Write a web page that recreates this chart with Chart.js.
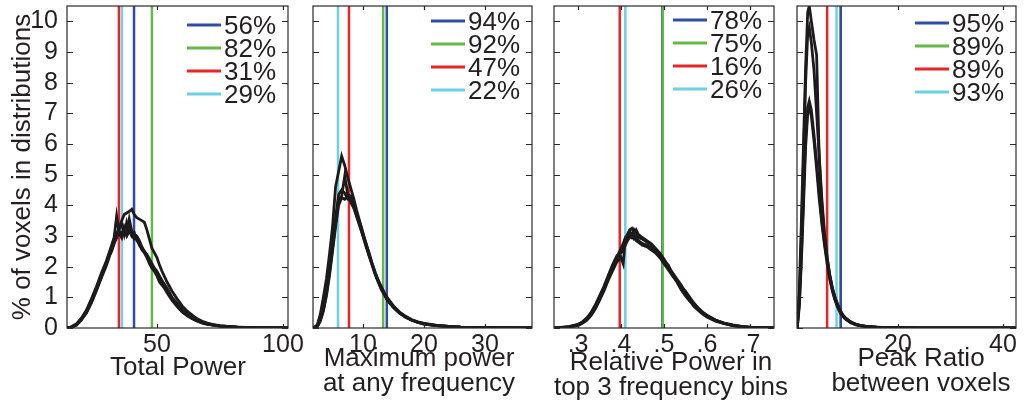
<!DOCTYPE html>
<html>
<head>
<meta charset="utf-8">
<script src="https://cdn.jsdelivr.net/npm/chart.js@4.4.1/dist/chart.umd.min.js"></script>
<style>
  html, body { margin: 0; padding: 0; background: #fff; }
  #wrap { position: relative; width: 1026px; height: 412px; }
  #wrap canvas { position: absolute; left: 0; top: 0; }
</style>
</head>
<body>
<div id="wrap">
  <canvas id="c1" width="1026" height="412"></canvas>
  <canvas id="c2" width="1026" height="412"></canvas>
  <canvas id="c3" width="1026" height="412"></canvas>
  <canvas id="c4" width="1026" height="412"></canvas>
</div>
<script>
// ---- data ----
const yTitle = '% of voxels in distributions';
const markColors = ['#2f4ea3', '#63ba46', '#e52629', '#6fcfe3']; // blue, green, red, cyan

// Total Power
const tpTitle = ['Total Power'];
const tpX = [14,16,18,20,22,24,26,28,30,31,32,33,34,35,36,37,38,39,40,41,42,43,44,45,46,47,48,49,50,51,52,54,56,58,60,62,64,66,68,70,72,75,78,82,86,90,95,102];
const tpA = [0,0.03,0.1,0.28,0.5,0.85,1.25,1.7,2.1,2.35,2.5,2.75,2.95,3.2,3.5,3.7,3.75,3.8,3.87,3.7,3.6,3.55,3.5,3.45,3.2,2.9,2.6,2.45,2.3,2.05,1.85,1.5,1.2,0.95,0.72,0.55,0.42,0.3,0.22,0.16,0.12,0.08,0.05,0.03,0.02,0.01,0.01,0];
const tpB = [0,0.04,0.13,0.32,0.58,0.95,1.35,1.8,2.2,2.45,2.7,2.95,3.65,3.1,2.95,3.3,3.1,3.55,3.15,3.05,3.0,2.85,2.65,2.5,2.35,2.2,2.0,1.9,1.75,1.6,1.45,1.15,0.9,0.7,0.52,0.4,0.3,0.22,0.16,0.12,0.09,0.06,0.04,0.02,0.02,0.01,0,0];
const tpC = [0,0.03,0.11,0.3,0.55,0.9,1.3,1.75,2.15,2.4,2.6,2.85,3.05,3.3,3.4,3.05,3.45,3.2,3.0,3.1,2.85,2.75,2.55,2.45,2.3,2.1,1.95,1.85,1.7,1.5,1.4,1.2,0.95,0.75,0.55,0.42,0.32,0.24,0.17,0.13,0.1,0.06,0.04,0.03,0.02,0.01,0.01,0];
const tpD = [0,0.02,0.09,0.26,0.5,0.82,1.22,1.65,2.05,2.3,2.55,2.8,2.95,3.15,3.1,3.2,3.0,3.15,3.05,2.9,2.95,2.7,2.6,2.5,2.4,2.25,2.1,1.95,1.85,1.7,1.55,1.3,1.0,0.8,0.6,0.45,0.34,0.25,0.19,0.14,0.1,0.07,0.05,0.03,0.02,0.01,0.01,0];
const tpMarks = [40.9, 48.0, 34.9, 36.1];
const tpLegend = ['56%', '82%', '31%', '29%'];

// Maximum power at any frequency
const mpTitle = ['Maximum power', 'at any frequency'];
const mpX = [1.8,2.5,3,3.5,4,4.5,5,5.5,6,6.5,7,7.5,8,8.5,9,9.5,10,10.5,11,11.5,12,12.5,13,13.5,14,15,16,17,18,19,20,22,24,26,28,31,34,37.7];
const mpA = [0,0.1,0.45,1.0,1.6,2.4,3.3,4.6,5.1,5.6,5.3,4.9,4.55,4.2,3.8,3.45,3.1,2.75,2.4,2.1,1.8,1.55,1.3,1.1,0.95,0.7,0.5,0.35,0.25,0.18,0.13,0.08,0.05,0.03,0.02,0.01,0,0];
const mpB = [0,0.05,0.25,0.6,1.1,1.8,2.6,3.4,4.2,4.3,4.95,4.35,4.3,4.0,3.65,3.35,3.0,2.7,2.35,2.05,1.75,1.5,1.3,1.1,0.92,0.68,0.5,0.36,0.26,0.19,0.14,0.08,0.05,0.03,0.02,0.01,0.01,0];
const mpC = [0,0.04,0.22,0.55,1.05,1.7,2.5,3.3,4.0,4.25,4.2,4.3,4.1,3.9,3.6,3.3,3.0,2.65,2.35,2.05,1.75,1.5,1.25,1.08,0.9,0.66,0.48,0.35,0.25,0.18,0.13,0.08,0.05,0.03,0.02,0.01,0,0];
const mpD = [0,0.06,0.3,0.7,1.25,1.95,2.8,3.6,4.35,4.5,4.4,4.2,4.15,3.95,3.7,3.4,3.05,2.75,2.45,2.1,1.8,1.55,1.35,1.15,0.98,0.72,0.52,0.38,0.27,0.2,0.15,0.09,0.05,0.03,0.02,0.01,0.01,0];
const mpMarks = [13.9, 13.3, 7.7, 5.9];
const mpLegend = ['94%', '92%', '47%', '22%'];

// Relative Power in top 3 frequency bins
const rpTitle = ['Relative Power in', 'top 3 frequency bins'];
const rpX = [0.244,0.26,0.28,0.3,0.31,0.32,0.33,0.34,0.35,0.36,0.37,0.38,0.39,0.40,0.405,0.41,0.415,0.42,0.425,0.43,0.435,0.44,0.45,0.46,0.47,0.48,0.49,0.50,0.51,0.52,0.53,0.54,0.55,0.56,0.57,0.58,0.59,0.60,0.62,0.64,0.66,0.68,0.70,0.73,0.756];
const rpA = [0,0.01,0.04,0.1,0.17,0.28,0.45,0.7,0.95,1.25,1.6,1.95,2.3,2.6,2.75,2.95,3.05,3.2,3.25,3.1,3.2,3.05,2.95,2.85,2.75,2.6,2.45,2.25,2.0,1.8,1.6,1.4,1.15,0.95,0.8,0.62,0.5,0.4,0.25,0.15,0.09,0.05,0.02,0.01,0];
const rpB = [0,0.01,0.03,0.08,0.15,0.25,0.4,0.62,0.9,1.2,1.55,1.85,2.15,2.3,2.1,2.9,3.0,3.15,3.0,3.2,3.05,2.95,2.9,2.8,2.7,2.55,2.4,2.2,2.05,1.75,1.55,1.35,1.2,1.0,0.8,0.65,0.52,0.42,0.26,0.16,0.1,0.05,0.03,0.01,0];
const rpC = [0,0.01,0.04,0.11,0.19,0.3,0.48,0.72,1.0,1.3,1.65,2.0,2.25,2.45,2.55,2.7,2.85,2.95,3.0,2.9,2.95,2.85,2.75,2.7,2.6,2.5,2.35,2.2,1.95,1.75,1.55,1.3,1.1,0.9,0.75,0.6,0.48,0.38,0.24,0.15,0.08,0.04,0.02,0.01,0];
const rpD = [0,0.02,0.05,0.12,0.2,0.32,0.5,0.75,1.05,1.35,1.7,2.05,2.35,2.5,2.65,2.8,2.95,3.05,2.95,3.0,2.85,2.8,2.7,2.65,2.55,2.45,2.3,2.1,1.9,1.7,1.5,1.25,1.05,0.88,0.7,0.57,0.45,0.36,0.22,0.14,0.08,0.04,0.02,0.01,0];
const rpMarks = [0.496, 0.497, 0.397, 0.41];
const rpLegend = ['78%', '75%', '16%', '26%'];

// Peak Ratio between voxels
const prTitle = ['Peak Ratio', 'between voxels'];
const prX = [0.8,1.2,1.6,2,2.4,2.8,3.1,3.5,4,4.5,5,5.5,6,6.5,7,7.5,8,8.5,9,9.5,10,11,12,13,14,16,18,20,24,30,36,42.5];
const prA = [0,1.2,3.5,6.0,8.5,10.3,10.5,10.0,9.4,8.9,5.5,4.0,3.0,2.3,1.75,1.3,1.0,0.75,0.55,0.42,0.32,0.19,0.12,0.08,0.05,0.03,0.01,0.01,0,0,0,0];
const prB = [0,1.0,3.0,5.5,8.0,9.6,9.8,9.3,8.4,7.0,5.6,4.2,3.1,2.3,1.7,1.3,1.0,0.78,0.57,0.43,0.33,0.2,0.12,0.08,0.05,0.03,0.02,0.01,0,0,0,0];
const prC = [0,0.8,2.4,4.3,6.2,7.2,7.4,7.1,6.3,5.4,4.4,3.5,2.8,2.2,1.65,1.25,0.95,0.7,0.52,0.4,0.3,0.18,0.11,0.07,0.05,0.02,0.01,0.01,0,0,0,0];
const prD = [0,0.7,2.2,4.0,5.9,7.0,7.2,6.9,6.1,5.2,4.2,3.4,2.7,2.1,1.6,1.2,0.9,0.68,0.5,0.38,0.29,0.17,0.1,0.07,0.04,0.02,0.01,0,0,0,0,0];
const prMarks = [9.1, 9.1, 6.5, 8.3];
const prLegend = ['95%', '89%', '89%', '93%'];

// ---- layout / style ----
const FONT = "'Liberation Sans', Arial, Helvetica, sans-serif";
const INK = '#231f20';
const CANVAS_W = 1026, CANVAS_H = 412;
const PLOT_TOP = 6, PLOT_BOTTOM = 328;
Chart.defaults.font.family = FONT;
Chart.defaults.color = INK;

const panels = [
  { id: 'c1', left: 67, right: 288, min: 14.3, max: 102, step: 50, x: tpX, curves: [tpA, tpB, tpC, tpD],
    marks: tpMarks, legend: tpLegend, title: tpTitle, titleX: 178, titleY: 368, legendY: 25, yAxis: true, under: -1 },
  { id: 'c2', left: 313, right: 532, min: 1.8, max: 37.7, step: 10, x: mpX, curves: [mpA, mpB, mpC, mpD],
    marks: mpMarks, legend: mpLegend, title: mpTitle, titleX: 419, titleY: 359, legendY: 21, yAxis: false, under: -1 },
  { id: 'c3', left: 554, right: 774, min: 0.244, max: 0.756, step: 0.1, x: rpX, curves: [rpA, rpB, rpC, rpD],
    marks: rpMarks, legend: rpLegend, title: rpTitle, titleX: 671, titleY: 363, legendY: 20, yAxis: false, under: 0,
    fmt: v => v.toFixed(1).replace(/^0/, '') },
  { id: 'c4', left: 797, right: 1016, min: 0.76, max: 42.5, step: 20, x: prX, curves: [prA, prB, prC, prD],
    marks: prMarks, legend: prLegend, title: prTitle, titleX: 921, titleY: 359, legendY: 23, yAxis: false, under: -1 }
];

// box, inward ticks, legend and x titles
const framePlugin = {
  id: 'frame',
  afterDatasetsDraw(chart) {
    const { ctx, chartArea: a, scales } = chart;
    ctx.save();
    ctx.strokeStyle = '#2a2a2a';
    ctx.lineWidth = 1.2;
    ctx.strokeRect(a.left, a.top, a.right - a.left, a.bottom - a.top);
    ctx.beginPath();
    scales.y.ticks.forEach(t => {
      const py = Math.round(scales.y.getPixelForValue(t.value)) + 0.5;
      ctx.moveTo(a.left, py); ctx.lineTo(a.left + 6, py);
      ctx.moveTo(a.right, py); ctx.lineTo(a.right - 6, py);
    });
    scales.x.ticks.forEach(t => {
      const px = Math.round(scales.x.getPixelForValue(t.value)) + 0.5;
      ctx.moveTo(px, a.bottom); ctx.lineTo(px, a.bottom - 4);
      ctx.moveTo(px, a.top); ctx.lineTo(px, a.top + 4);
    });
    ctx.stroke();
    ctx.restore();
  },
  afterDraw(chart, args, opts) {
    const { ctx, chartArea: a } = chart;
    ctx.save();
    ctx.font = '26px ' + FONT;
    ctx.fillStyle = INK;
    ctx.textBaseline = 'middle';
    // legend
    opts.legend.forEach((txt, i) => {
      const y = opts.legendY + i * 23;
      const tx = a.right - 64;
      ctx.strokeStyle = markColors[i];
      ctx.lineWidth = 3;
      ctx.beginPath();
      ctx.moveTo(tx - 37, y); ctx.lineTo(tx - 3, y);
      ctx.stroke();
      ctx.textAlign = 'left';
      ctx.fillText(txt, tx, y + 2);
    });
    // x title
    ctx.textAlign = 'center';
    opts.title.forEach((line, i) => ctx.fillText(line, opts.titleX, opts.titleY + i * 25));
    ctx.restore();
  }
};

panels.forEach(p => {
  const datasets = [];
  p.curves.forEach(c => datasets.push({
    data: p.x.map((x, i) => ({ x, y: c[i] })),
    showLine: true, borderColor: '#1c1a1a', borderWidth: 2.8, pointRadius: 0, order: 1
  }));
  p.marks.forEach((m, i) => datasets.push({
    data: [{ x: m, y: 0 }, { x: m, y: 10.5 }],
    showLine: true, borderColor: markColors[i], borderWidth: 2.5, pointRadius: 0,
    order: i === p.under ? 2.5 : 2
  }));

  const yWidth = p.yAxis ? 60 : 0;
  new Chart(document.getElementById(p.id), {
    type: 'scatter',
    data: { datasets },
    plugins: [framePlugin],
    options: {
      responsive: false,
      animation: false,
      devicePixelRatio: 1,
      events: [],
      layout: { padding: { left: p.left - yWidth, right: CANVAS_W - p.right, top: PLOT_TOP, bottom: CANVAS_H - PLOT_BOTTOM - 40 } },
      plugins: {
        legend: { display: false },
        tooltip: { enabled: false },
        frame: { legend: p.legend, legendY: p.legendY, title: p.title, titleX: p.titleX, titleY: p.titleY }
      },
      scales: {
        x: {
          type: 'linear', min: p.min, max: p.max,
          grid: { display: false, drawTicks: false },
          border: { display: false },
          ticks: {
            stepSize: p.step, includeBounds: false, autoSkip: false, maxRotation: 0, padding: 2,
            color: INK, font: { size: 25 },
            callback: v => p.fmt ? p.fmt(v) : String(v)
          },
          afterFit: s => { s.height = 40; s.paddingLeft = 0; s.paddingRight = 0; }
        },
        y: {
          min: 0, max: 10.5,
          grid: { display: false, drawTicks: false },
          border: { display: false },
          ticks: { display: p.yAxis, stepSize: 1, includeBounds: false, autoSkip: false, padding: 9, color: INK, font: { size: 25, lineHeight: 1 } },
          title: { display: p.yAxis, text: yTitle, color: INK, font: { size: 26 }, padding: 0 },
          afterFit: s => { s.width = yWidth; s.paddingTop = 0; s.paddingBottom = 0; }
        }
      }
    }
  });
});
</script>
</body>
</html>
